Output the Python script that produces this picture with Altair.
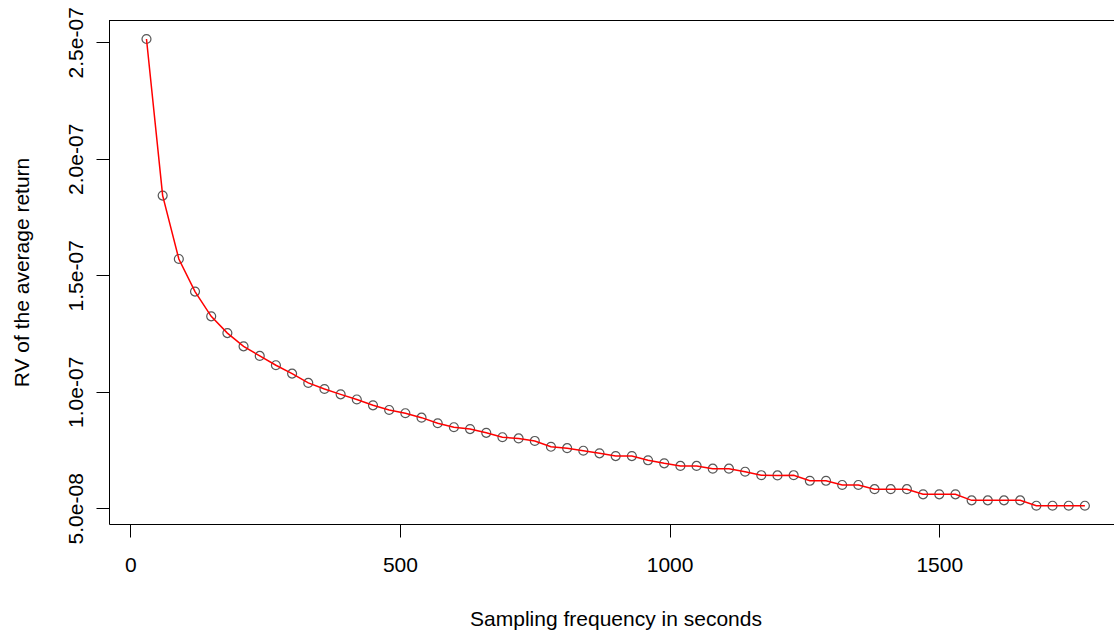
import altair as alt
import pandas as pd

freq = [30, 60, 90, 120, 150, 180, 210, 240, 270, 300,
        330, 360, 390, 420, 450, 480, 510, 540, 570, 600,
        630, 660, 690, 720, 750, 780, 810, 840, 870, 900,
        930, 960, 990, 1020, 1050, 1080, 1110, 1140, 1170, 1200,
        1230, 1260, 1290, 1320, 1350, 1380, 1410, 1440, 1470, 1500,
        1530, 1560, 1590, 1620, 1650, 1680, 1710, 1740, 1770]

rv = [2.514e-7, 1.842e-7, 1.570e-7, 1.430e-7, 1.324e-7, 1.252e-7, 1.195e-7, 1.154e-7, 1.114e-7, 1.078e-7,
      1.038e-7, 1.012e-7, 9.89e-8, 9.67e-8, 9.42e-8, 9.22e-8, 9.08e-8, 8.89e-8, 8.65e-8, 8.48e-8,
      8.40e-8, 8.24e-8, 8.05e-8, 8.00e-8, 7.89e-8, 7.64e-8, 7.58e-8, 7.47e-8, 7.36e-8, 7.24e-8,
      7.24e-8, 7.06e-8, 6.93e-8, 6.82e-8, 6.82e-8, 6.70e-8, 6.70e-8, 6.57e-8, 6.42e-8, 6.41e-8,
      6.42e-8, 6.18e-8, 6.18e-8, 6.00e-8, 6.00e-8, 5.82e-8, 5.82e-8, 5.82e-8, 5.60e-8, 5.60e-8,
      5.60e-8, 5.34e-8, 5.34e-8, 5.34e-8, 5.34e-8, 5.11e-8, 5.11e-8, 5.11e-8, 5.11e-8]

x_ticks = [0, 500, 1000, 1500]
y_ticks = [5e-8, 1e-7, 1.5e-7, 2e-7, 2.5e-7]

x_title = "Sampling frequency in seconds"
y_title = "RV of the average return"

df = pd.DataFrame({"freq": freq, "rv": rv})

W = 1005
H = 504
FONT = "Liberation Sans"
FS = 21

x_enc = alt.X(
    "freq:Q",
    scale=alt.Scale(domain=[-39.5, 1824.0], nice=False, zero=False),
    axis=alt.Axis(
        values=x_ticks, format="d", title=x_title, grid=False,
        tickSize=13, tickColor="black", domainColor="black", tickWidth=1, domainWidth=1,
        labelPadding=17, labelFlush=False, labelOverlap=False,
        labelFont=FONT, labelFontSize=FS, labelColor="black",
        titleFont=FONT, titleFontSize=FS, titleFontWeight="normal", titleColor="black",
        titleX=506.5, titleY=95, titleBaseline="middle", titleAlign="center",
    ),
)

y_enc = alt.Y(
    "rv:Q",
    scale=alt.Scale(domain=[4.326e-8, 2.5957e-7], nice=False, zero=False),
    axis=alt.Axis(
        values=y_ticks, title=y_title, grid=False,
        labelExpr="replace(format(datum.value, '.1e'), 'e-', 'e-0')",
        tickSize=13, tickColor="black", domainColor="black", tickWidth=1, domainWidth=1,
        labelPadding=14, labelAngle=270, labelAlign="center", labelBaseline="alphabetic",
        labelFlush=False, labelOverlap=False,
        labelFont=FONT, labelFontSize=FS, labelColor="black",
        titleFont=FONT, titleFontSize=FS, titleFontWeight="normal", titleColor="black",
        titleAngle=270, titleX=-87, titleY=H / 2, titleBaseline="middle", titleAlign="center",
    ),
)

base = alt.Chart(df)

points = base.mark_point(shape="circle", filled=False, size=80, color="#111111", strokeWidth=1.2).encode(
    x=x_enc, y=y_enc
)
line = base.mark_line(color="#FF0000", strokeWidth=1.5).encode(x="freq:Q", y="rv:Q")

top_border = alt.Chart(df).mark_rule(color="black", strokeWidth=1).encode(
    x=alt.value(0), x2=alt.value(W), y=alt.value(0.5)
)

chart = (
    alt.layer(points, line, top_border)
    .properties(
        width=W, height=H,
        autosize=alt.AutoSizeParams(type="none"),
        padding={"left": 109, "top": 20, "right": 0, "bottom": 109},
        background="white",
    )
    .configure_view(stroke=None)
)

chart.save("out.html", embed_options={"renderer": "svg", "actions": False})
